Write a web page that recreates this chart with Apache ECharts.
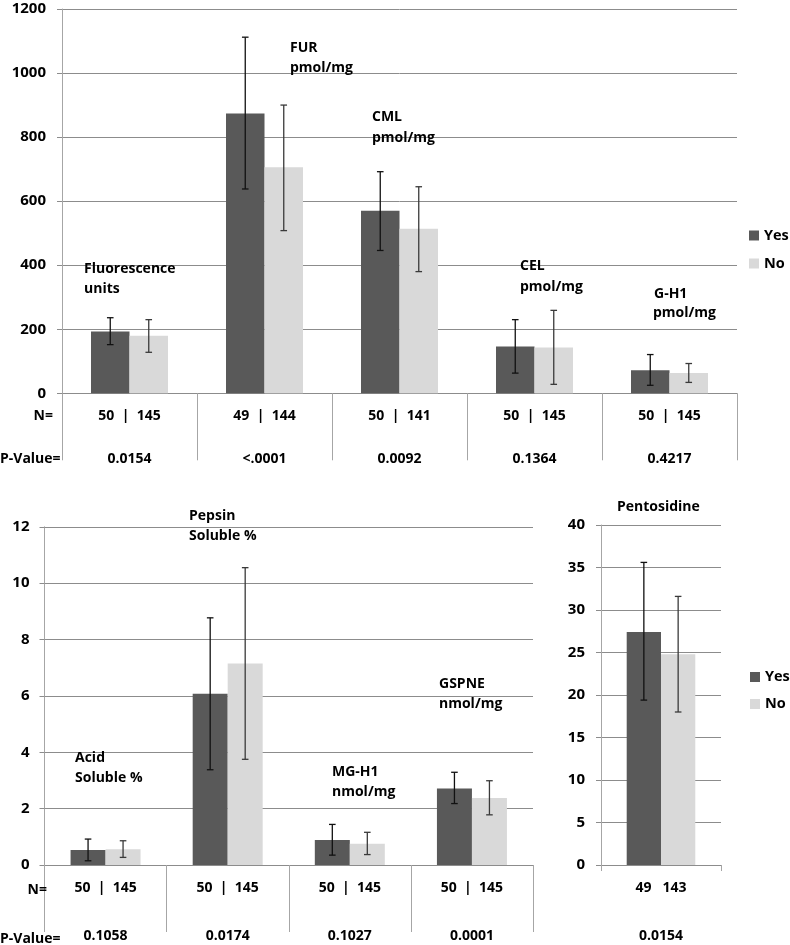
<!DOCTYPE html>
<html>
<head>
<meta charset="utf-8">
<script src="https://cdn.jsdelivr.net/npm/echarts@6/dist/echarts.min.js"></script>
<style>
html,body{margin:0;padding:0;background:#fff;}
#chart{width:790px;height:945px;}
</style>
</head>
<body>
<div id="chart"></div>
<script>
// ---------- Top panel ----------
const topN = ['50  |  145', '49  |  144', '50  |  141', '50  |  145', '50  |  145'];
const topP = ['0.0154', '<.0001', '0.0092', '0.1364', '0.4217'];
const topYes = [193, 874, 570, 146, 72];
const topNo = [180, 706, 514, 143, 63];
const topYesLow = [152, 638, 446, 63, 25];
const topYesHigh = [236, 1112, 692, 230, 121];
const topNoLow = [128, 508, 380, 28, 34];
const topNoHigh = [230, 900, 645, 259, 93];
const topTicks = [0, 1200, 200];

// ---------- Bottom-left panel ----------
const blN = ['50  |  145', '50  |  145', '50  |  145', '50  |  145'];
const blP = ['0.1058', '0.0174', '0.1027', '0.0001'];
const blYes = [0.53, 6.08, 0.89, 2.71];
const blNo = [0.56, 7.15, 0.75, 2.38];
const blYesLow = [0.15, 3.38, 0.35, 2.18];
const blYesHigh = [0.92, 8.77, 1.44, 3.29];
const blNoLow = [0.27, 3.75, 0.37, 1.78];
const blNoHigh = [0.86, 10.55, 1.16, 2.99];
const blTicks = [0, 12, 2];

// ---------- Bottom-right panel ----------
const brN = ['49   143'];
const brP = ['0.0154'];
const brYes = [27.4];
const brNo = [24.8];
const brYesLow = [19.4];
const brYesHigh = [35.6];
const brNoLow = [18.0];
const brNoHigh = [31.6];
const brTicks = [0, 40, 5];

// ---------- Annotation texts ----------
const topNotes = [['Fluorescence', 84, 269], ['units', 84, 289], ['FUR', 290, 48], ['pmol/mg', 290, 68],
  ['CML', 372, 117], ['pmol/mg', 372, 138], ['CEL', 520, 266], ['pmol/mg', 520, 287],
  ['G-H1', 654, 294], ['pmol/mg', 653, 313]];
const bottomNotes = [['Pepsin', 189, 516], ['Soluble %', 189, 536], ['Acid', 75, 758], ['Soluble %', 75, 778],
  ['MG-H1', 332, 772], ['nmol/mg', 332, 792], ['GSPNE', 439, 684], ['nmol/mg', 439, 704],
  ['Pentosidine', 617, 507]];
const rowLabels = [['N=', 53, 416, 'right'], ['P-Value=', 0, 459, 'left'], ['N=', 47, 890, 'right'], ['P-Value=', 0, 939, 'left']];

const FONT = '"Open Sans"';
const FS = 14;
const DARK = '#595959', LIGHT = '#d9d9d9';
const GRID_C = '#8c8c8c', AXIS_C = '#a6a6a6';

function zip3(lo, hi) { return lo.map((v, i) => [i, v, hi[i]]); }

function errRender(offset, color) {
  return function (params, api) {
    const i = api.value(0);
    const x = api.coord([i, 0])[0] + offset;
    const y1 = api.coord([i, api.value(1)])[1];
    const y2 = api.coord([i, api.value(2)])[1];
    const h = 3.3;
    const st = { stroke: color, lineWidth: 1.3 };
    return {
      type: 'group',
      children: [
        { type: 'line', shape: { x1: x, y1: y1, x2: x, y2: y2 }, style: st },
        { type: 'line', shape: { x1: x - h, y1: y1, x2: x + h, y2: y1 }, style: st },
        { type: 'line', shape: { x1: x - h, y1: y2, x2: x + h, y2: y2 }, style: st }
      ]
    };
  };
}

const lbl = { fontFamily: FONT, fontSize: FS, fontWeight: 'bold', color: '#000', lineHeight: 18 };

function catAxis(grid, data, offset, tickLen, showLine) {
  return {
    type: 'category', gridIndex: grid, data: data, position: 'bottom', offset: offset,
    axisLine: { show: showLine, lineStyle: { color: GRID_C, width: 1 } },
    axisTick: { show: tickLen > 0, length: tickLen, lineStyle: { color: AXIS_C } },
    axisLabel: Object.assign({ margin: 14, interval: 0 }, lbl),
    splitLine: { show: false }
  };
}
function valAxis(grid, ticks, margin) {
  return {
    type: 'value', gridIndex: grid, min: ticks[0], max: ticks[1], interval: ticks[2],
    axisLine: { show: true, lineStyle: { color: AXIS_C } },
    axisTick: { show: true, length: 5, lineStyle: { color: GRID_C } },
    axisLabel: Object.assign({ margin: margin, formatter: v => String(v) }, lbl, { fontSize: 15 }),
    splitLine: { show: true, lineStyle: { color: GRID_C, width: 1 } }
  };
}

function barPair(xi, yes, no, w) {
  return [
    { name: 'Yes', type: 'bar', xAxisIndex: xi, yAxisIndex: xi / 2, data: yes, barWidth: w, barGap: '0%', itemStyle: { color: DARK }, z: 2 },
    { name: 'No', type: 'bar', xAxisIndex: xi, yAxisIndex: xi / 2, data: no, barWidth: w, barGap: '0%', itemStyle: { color: LIGHT }, z: 2 }
  ];
}
function errPair(xi, yl, yh, nl, nh, w) {
  return [
    { name: 'errYes' + xi, type: 'custom', xAxisIndex: xi, yAxisIndex: xi / 2, data: zip3(yl, yh), encode: { x: 0, y: [1, 2] }, renderItem: errRender(-w / 2, '#111'), z: 5, clip: false },
    { name: 'errNo' + xi, type: 'custom', xAxisIndex: xi, yAxisIndex: xi / 2, data: zip3(nl, nh), encode: { x: 0, y: [1, 2] }, renderItem: errRender(w / 2, '#3a3a3a'), z: 5, clip: false }
  ];
}

function textEl(t, x, y, align) {
  return { type: 'text', x: x, y: y, z: 10,
    style: { text: t, fontFamily: FONT, fontSize: FS, fontWeight: 'bold', fill: '#000', align: align, verticalAlign: 'middle' } };
}

const graphics = []
  .concat(topNotes.map(n => textEl(n[0], n[1], n[2], 'left')))
  .concat(bottomNotes.map(n => textEl(n[0], n[1], n[2], 'left')))
  .concat(rowLabels.map(n => textEl(n[0], n[1], n[2], n[3])));

const legendText = { fontFamily: FONT, fontSize: 14.5, fontWeight: 'bold', color: '#000', lineHeight: 18 };

const option = {
  animation: false,
  backgroundColor: '#fff',
  grid: [
    { left: 62, top: 7, width: 675, height: 386.3 },
    { left: 44.5, top: 526.8, width: 488.5, height: 341 },
    { left: 601, top: 525, width: 120, height: 344.3 }
  ],
  xAxis: [
    catAxis(0, topN, 0, 67, true),
    catAxis(0, topP, 43, 0, false),
    catAxis(1, blN, 0, 67, true),
    catAxis(1, blP, 48, 0, false),
    catAxis(2, brN, 0, 6, true),
    catAxis(2, brP, 48, 0, false)
  ],
  yAxis: [
    valAxis(0, topTicks, 16),
    valAxis(1, blTicks, 15),
    valAxis(2, brTicks, 16)
  ],
  legend: [
    { data: ['Yes', 'No'], orient: 'vertical', left: 749, top: 226.5, padding: 0, icon: 'rect', itemWidth: 10, itemHeight: 10, itemGap: 10, textStyle: legendText, selectedMode: false },
    { data: ['Yes', 'No'], orient: 'vertical', left: 750, top: 668, padding: 0, icon: 'rect', itemWidth: 10, itemHeight: 10, itemGap: 9, textStyle: legendText, selectedMode: false }
  ],
  graphic: graphics,
  series: []
    .concat(barPair(0, topYes, topNo, 38.5))
    .concat(errPair(0, topYesLow, topYesHigh, topNoLow, topNoHigh, 38.5))
    .concat(barPair(2, blYes, blNo, 35))
    .concat(errPair(2, blYesLow, blYesHigh, blNoLow, blNoHigh, 35))
    .concat(barPair(4, brYes, brNo, 34.3))
    .concat(errPair(4, brYesLow, brYesHigh, brNoLow, brNoHigh, 34.3))
};

const chart = echarts.init(document.getElementById('chart'), null, { renderer: 'canvas' });
chart.setOption(option);
</script>
</body>
</html>
